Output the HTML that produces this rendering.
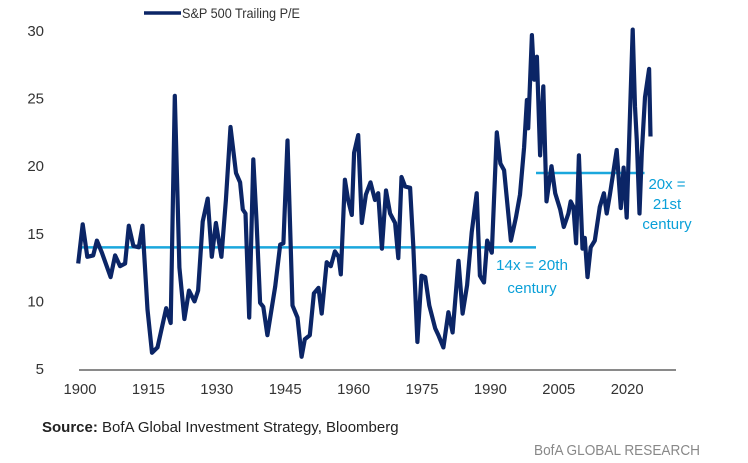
<!DOCTYPE html>
<html><head><meta charset="utf-8"><style>
body{margin:0;background:#fff;width:748px;height:463px;overflow:hidden;font-family:"Liberation Sans",sans-serif}
svg{display:block}
</style></head><body>
<svg id="chart" width="748" height="463">
<g id="yticks"></g>
<g id="xticks"></g>
<line x1="79" y1="370" x2="676" y2="370" stroke="#444" stroke-width="1.2"/>
<g id="refs"></g>
<path id="series" fill="none" stroke="#0b2566" stroke-width="4.2" stroke-linejoin="round"/>
<g>
<line x1="144" y1="13" x2="181" y2="13" stroke="#0b2566" stroke-width="3.5"/>
<text x="182" y="18" font-size="14" fill="#333" textLength="118" lengthAdjust="spacingAndGlyphs">S&amp;P 500 Trailing P/E</text>
</g>
<g fill="#0aa0d8" font-size="15">
<text x="532" y="270" text-anchor="middle" textLength="72" lengthAdjust="spacingAndGlyphs">14x = 20th</text>
<text x="532" y="293" text-anchor="middle">century</text>
<text x="667" y="189" text-anchor="middle">20x =</text>
<text x="667" y="209" text-anchor="middle">21st</text>
<text x="667" y="229" text-anchor="middle">century</text>
</g>
<text x="42" y="432" font-size="15" fill="#222"><tspan font-weight="bold">Source:</tspan> BofA Global Investment Strategy, Bloomberg</text>
<text x="700" y="455" font-size="15" fill="#888" text-anchor="end" textLength="166" lengthAdjust="spacingAndGlyphs">BofA GLOBAL RESEARCH</text>
</svg>
<script>
const years=[1899.6,1900.6,1901.6,1902.9,1903.7,1904.8,1906.7,1907.7,1908.8,1909.9,1910.7,1911.7,1912.9,1913.7,1914.8,1915.8,1917,1918.9,1919.9,1920.8,1921.8,1922.9,1923.9,1925.1,1925.9,1926.9,1928,1928.9,1929.8,1931,1932,1933,1934.2,1935.1,1935.7,1936.3,1937.1,1938,1938.7,1939.5,1940.2,1941.1,1942,1942.8,1943.9,1944.6,1945.5,1946.6,1947.7,1948.6,1949.3,1950.4,1951.3,1952.3,1953,1954.1,1955,1955.9,1956.7,1957.2,1958.1,1958.8,1959.6,1960.1,1961,1961.8,1962.7,1963.7,1964.7,1965.4,1966.2,1967.1,1968,1969.1,1969.8,1970.5,1971.3,1972.4,1973.1,1974,1974.9,1975.7,1976.6,1977.9,1978.6,1979.7,1980.8,1981.7,1983,1983.9,1984.9,1985.9,1987,1987.7,1988.6,1989.3,1990.3,1991.4,1992.2,1993,1994.5,1995.6,1996.5,1997.4,1998,1998.3,1999.1,1999.6,2000.2,2000.9,2001.6,2002.3,2003.4,2004.2,2005.3,2006.1,2007.1,2007.6,2008.2,2008.8,2009.4,2010.2,2010.7,2011.3,2012,2012.9,2014,2014.9,2015.5,2016.2,2017.7,2018.6,2019.2,2019.9,2021.2,2021.7,2022.1,2022.7,2023.2,2023.9,2024.8,2025.1];
const peValues=[12.8,15.7,13.3,13.4,14.5,13.6,11.8,13.4,12.6,12.8,15.6,14.1,14,15.6,9.4,6.2,6.6,9.5,8.4,25.2,12.5,8.7,10.8,10,10.8,15.9,17.6,13.3,15.8,13.3,17.5,22.9,19.5,18.8,16.8,16.5,8.8,20.5,16,9.9,9.6,7.5,9.4,11.1,14.2,14.3,21.9,9.7,8.8,5.9,7.2,7.5,10.6,11,9.1,12.9,12.6,13.7,13.3,12,19,17.5,16.4,21,22.3,15.8,17.9,18.8,17.5,18,13.9,18.2,16.5,15.8,13.2,19.2,18.5,18.4,14.1,7,11.9,11.8,9.7,8,7.5,6.6,9.2,7.7,13,9.1,11.2,15.1,18,11.9,11.4,14.5,13.6,22.5,20.2,19.7,14.5,16.2,17.9,21.4,24.9,22.8,29.7,26.4,28.1,20.8,25.9,17.4,20,18,16.8,15.5,16.5,17.4,17,14.3,20.8,13.9,14.7,11.8,14,14.5,17,18,16.5,17.9,21.2,16.9,19.9,16.2,30.1,24.4,21.9,16.5,21,25.1,27.2,22.2];
const yTicks=[5,10,15,20,25,30];
const xTicks=[1900,1915,1930,1945,1960,1975,1990,2005,2020];
const refStart=[1900,2000];
const refEnd=[2000,2023.8];
const refValue=[14,19.5];
const NS="http://www.w3.org/2000/svg";
const xs=y=>80+(y-1900)*4.56;
const ys=v=>369-(v-5)*13.52;
const yg=document.getElementById('yticks');
yTicks.forEach(t=>{const e=document.createElementNS(NS,'text');


e.setAttribute('x',44);e.setAttribute('y',ys(t)+5);e.setAttribute('font-size','15');e.setAttribute('fill','#333');e.setAttribute('text-anchor','end');e.textContent=t;yg.appendChild(e);});
const xg=document.getElementById('xticks');
xTicks.forEach(t=>{const e=document.createElementNS(NS,'text');


e.setAttribute('x',xs(t));e.setAttribute('y',394);e.setAttribute('font-size','15');e.setAttribute('fill','#333');e.setAttribute('text-anchor','middle');e.setAttribute('textLength','33');e.setAttribute('lengthAdjust','spacingAndGlyphs');e.textContent=t;xg.appendChild(e);});
const rg=document.getElementById('refs');
refValue.forEach((v,i)=>{const l=document.createElementNS(NS,'line');


l.setAttribute('x1',xs(refStart[i]));l.setAttribute('x2',xs(refEnd[i]));l.setAttribute('y1',ys(v));l.setAttribute('y2',ys(v));l.setAttribute('stroke','#1aa7dd');l.setAttribute('stroke-width','2.5');rg.appendChild(l);});
document.getElementById('series').setAttribute('d',years.map((y,i)=>(i?'L':'M')+xs(y).toFixed(1)+' '+ys(peValues[i]).toFixed(1)).join(' '));
</script>
</body></html>
